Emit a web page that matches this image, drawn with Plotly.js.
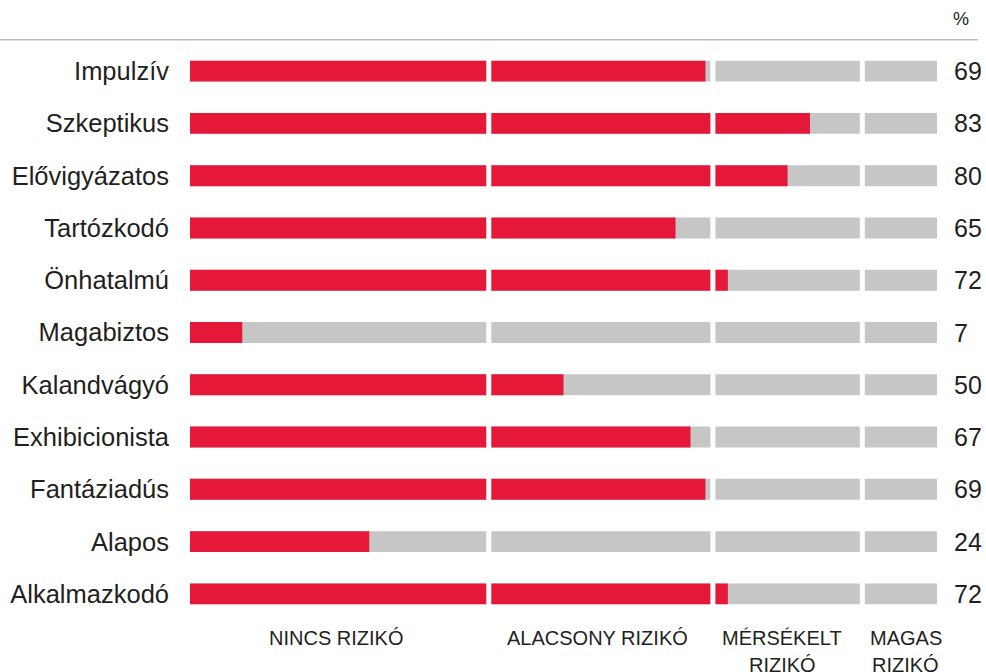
<!DOCTYPE html>
<html>
<head>
<meta charset="utf-8">
<script src="https://cdn.plot.ly/plotly-3.0.1.min.js"></script>
<style>html,body{margin:0;padding:0;background:#fff}#chart{width:986px;height:672px}</style>
</head>
<body>
<div id="chart"></div>
<script>
const categories = ["Impulzív","Szkeptikus","Elővigyázatos","Tartózkodó","Önhatalmú","Magabiztos","Kalandvágyó","Exhibicionista","Fantáziadús","Alapos","Alkalmazkodó"];
const values = [69, 83, 80, 65, 72, 7, 50, 67, 69, 24, 72];
const maxValue = 100;
const segmentBreaks = [40, 70, 90];
const segmentLabels = [["NINCS RIZIKÓ"], ["ALACSONY RIZIKÓ"], ["MÉRSÉKELT", "RIZIKÓ"], ["MAGAS", "RIZIKÓ"]];
const segmentLabelX = [19.5, 54.6, 79.3, 95.8];
const unitLabel = "%";

const RED = "#E6183A";
const GRAY = "#C6C6C6";
const TEXT = "#231F20";
const FONT = "Liberation Sans, Arial, sans-serif";

const traces = [
  {type: "bar", orientation: "h", y: categories, x: categories.map(() => maxValue),
   marker: {color: GRAY}, width: 0.4, hoverinfo: "skip"},
  {type: "bar", orientation: "h", y: categories, x: values,
   marker: {color: RED}, width: 0.4, hoverinfo: "skip"}
];

const shapes = segmentBreaks.map(b => ({
  type: "line", xref: "x", yref: "paper", x0: b, x1: b, y0: 0, y1: 1,
  line: {color: "#ffffff", width: 5}, layer: "above"
}));
shapes.push({type: "line", xref: "paper", yref: "paper", x0: -0.26, x1: 1.055, y0: 1.009, y1: 1.009,
  line: {color: "#9a9a9a", width: 1}});

const annotations = [];
values.forEach((v, i) => {
  annotations.push({xref: "paper", yref: "y", x: 1.0205, y: categories[i], text: String(v),
    xanchor: "left", yanchor: "middle", showarrow: false, font: {size: 25, color: TEXT, family: FONT}});
});
segmentLabels.forEach((lines, i) => {
  lines.forEach((t, j) => {
    annotations.push({xref: "x", yref: "paper", x: segmentLabelX[i], y: 0, yshift: -5 - 27 * j,
      text: t, xanchor: "center", yanchor: "top", showarrow: false,
      font: {size: 20, color: TEXT, family: FONT}});
  });
});
annotations.push({xref: "paper", yref: "paper", x: 1.0325, y: 1.0, yshift: 26, text: unitLabel,
  xanchor: "center", yanchor: "middle", showarrow: false, font: {size: 18, color: TEXT, family: FONT}});

const layout = {
  width: 986, height: 672,
  margin: {l: 190, r: 49, t: 45, b: 52},
  paper_bgcolor: "#fff", plot_bgcolor: "#fff",
  barmode: "overlay", showlegend: false,
  xaxis: {range: [0, maxValue], visible: false, fixedrange: true},
  yaxis: {autorange: "reversed", showgrid: false, zeroline: false, showline: false, ticks: "",
    ticklabelstandoff: 20, tickfont: {size: 25.5, color: TEXT, family: FONT}, fixedrange: true},
  shapes: shapes,
  annotations: annotations,
  font: {family: FONT, color: TEXT}
};

Plotly.newPlot("chart", traces, layout, {displayModeBar: false, staticPlot: true});
</script>
</body>
</html>
